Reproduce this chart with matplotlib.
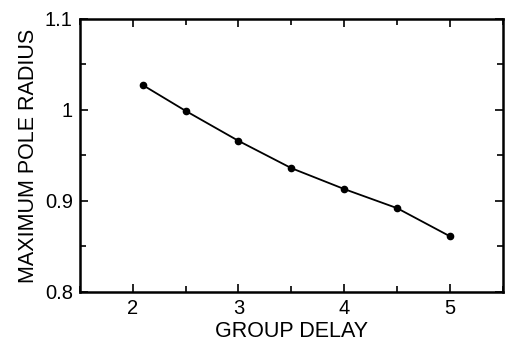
import matplotlib
matplotlib.use("Agg")
import matplotlib.pyplot as plt
from matplotlib.ticker import MultipleLocator

group_delay = [2.1, 2.5, 3.0, 3.5, 4.0, 4.5, 5.0]
max_pole_radius = [1.027, 0.999, 0.966, 0.936, 0.913, 0.892, 0.861]
x_ticks = [2, 3, 4, 5]
y_ticks = [0.8, 0.9, 1.0, 1.1]
y_tick_labels = ["0.8", "0.9", "1", "1.1"]

plt.rcParams['font.family'] = ['Liberation Sans', 'DejaVu Sans']
fig = plt.figure(figsize=(5.05, 3.45), dpi=100)
ax = fig.add_axes([0.158, 0.154, 0.838, 0.791])
ax.plot(group_delay, max_pole_radius, color='black', lw=1.3, marker='o', ms=4.5)
ax.set_xlim(1.5, 5.5)
ax.set_ylim(0.8, 1.1)
ax.set_xticks(x_ticks)
ax.set_yticks(y_ticks)
ax.set_yticklabels(y_tick_labels)
ax.xaxis.set_minor_locator(MultipleLocator(0.5))
ax.yaxis.set_minor_locator(MultipleLocator(0.05))
ax.tick_params(which='both', direction='in', top=True, right=True, labelsize=14.5, width=1.2)
ax.tick_params(which='major', length=6, pad=5)
ax.tick_params(which='minor', length=4)
for s in ax.spines.values():
    s.set_linewidth(1.8)
ax.set_xlabel("GROUP DELAY", fontsize=15.5, labelpad=2)
ax.set_ylabel("MAXIMUM POLE RADIUS", fontsize=15.5, labelpad=4)
fig.savefig("out.png", dpi=100)
